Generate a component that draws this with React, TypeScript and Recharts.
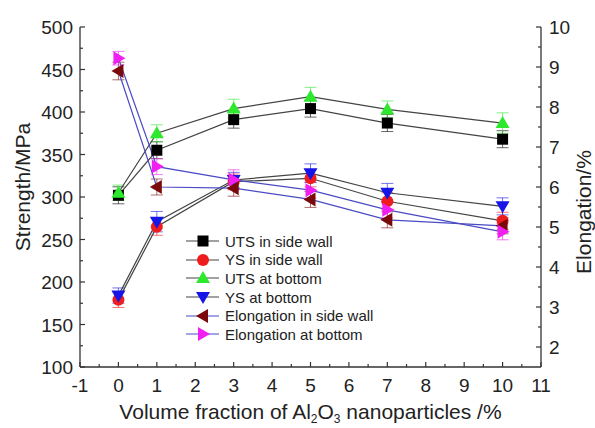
import React from 'react';
import {
  ComposedChart, Line, XAxis, YAxis, ErrorBar, Legend,
} from 'recharts';

const volumeFractions = [0, 1, 3, 5, 7, 10];

// strength (MPa), left axis
const utsSideWall = [302, 355, 391, 404, 387, 368];
const ysSideWall = [179, 265, 318, 322, 295, 272];
const utsBottom = [305, 375, 404, 418, 403, 387];
const ysBottom = [184, 271, 320, 328, 305, 289];
const utsSideWallErr = [10, 10, 10, 10, 10, 10];
const ysSideWallErr = [9, 10, 9, 10, 10, 10];
const utsBottomErr = [9, 10, 11, 11, 10, 12];
const ysBottomErr = [9, 12, 9, 11, 11, 10];

// elongation (%), right axis
const elongSideWall = [8.9, 6.0, 5.97, 5.69, 5.18, 5.03];
const elongBottom = [9.22, 6.51, 6.18, 5.92, 5.43, 4.88];
const elongSideWallErr = [0.22, 0.2, 0.2, 0.2, 0.2, 0.2];
const elongBottomErr = [0.17, 0.2, 0.25, 0.2, 0.2, 0.2];

const xTicks = [-1, 0, 1, 2, 3, 4, 5, 6, 7, 8, 9, 10, 11];
const leftTicks = [100, 150, 200, 250, 300, 350, 400, 450, 500];
const rightTicks = [2, 3, 4, 5, 6, 7, 8, 9, 10];

const withMinor = (major: number[], step: number) =>
  major.flatMap((v, i) => (i < major.length - 1 ? [v, v + step / 2] : [v]));

const data = volumeFractions.map((x, i) => ({
  x,
  utsSide: utsSideWall[i], utsSideErr: utsSideWallErr[i],
  ysSide: ysSideWall[i], ysSideErr: ysSideWallErr[i],
  utsBot: utsBottom[i], utsBotErr: utsBottomErr[i],
  ysBot: ysBottom[i], ysBotErr: ysBottomErr[i],
  elSide: elongSideWall[i], elSideErr: elongSideWallErr[i],
  elBot: elongBottom[i], elBotErr: elongBottomErr[i],
}));

const FONT = '"Liberation Sans", Arial, sans-serif';
const AXIS = '#333';
const STRENGTH_LINE = '#444';
const ELONG_LINE = '#4a4ac4';

type Shape = 'square' | 'circle' | 'up' | 'down' | 'left' | 'right';

const series = [
  { key: 'utsSide', err: 'utsSideErr', name: 'UTS in side wall', shape: 'square' as Shape, color: '#000000', line: STRENGTH_LINE, axis: 'left' },
  { key: 'ysSide', err: 'ysSideErr', name: 'YS in side wall', shape: 'circle' as Shape, color: '#ee1c1c', line: STRENGTH_LINE, axis: 'left' },
  { key: 'utsBot', err: 'utsBotErr', name: 'UTS at bottom', shape: 'up' as Shape, color: '#2ee82e', line: STRENGTH_LINE, axis: 'left' },
  { key: 'ysBot', err: 'ysBotErr', name: 'YS at bottom', shape: 'down' as Shape, color: '#1515e8', line: STRENGTH_LINE, axis: 'left' },
  { key: 'elSide', err: 'elSideErr', name: 'Elongation in side wall', shape: 'left' as Shape, color: '#7a0a0a', line: ELONG_LINE, axis: 'right' },
  { key: 'elBot', err: 'elBotErr', name: 'Elongation at bottom', shape: 'right' as Shape, color: '#f020f0', line: ELONG_LINE, axis: 'right' },
];

function Marker({ shape, cx, cy, color }: { shape: Shape; cx: number; cy: number; color: string }) {
  const s = 6;
  if (shape === 'square') return <rect x={cx - 5.5} y={cy - 5.5} width={11} height={11} fill={color} />;
  if (shape === 'circle') return <circle cx={cx} cy={cy} r={6} fill={color} />;
  let pts = '';
  if (shape === 'up') pts = `${cx},${cy - s - 1} ${cx - s - 1},${cy + s - 1} ${cx + s + 1},${cy + s - 1}`;
  if (shape === 'down') pts = `${cx},${cy + s + 1} ${cx - s - 1},${cy - s + 1} ${cx + s + 1},${cy - s + 1}`;
  if (shape === 'left') pts = `${cx - s - 1},${cy} ${cx + s - 1},${cy - s - 1} ${cx + s - 1},${cy + s + 1}`;
  if (shape === 'right') pts = `${cx + s + 1},${cy} ${cx - s + 1},${cy - s - 1} ${cx - s + 1},${cy + s + 1}`;
  return <polygon points={pts} fill={color} />;
}

const XTick = ({ x, y, payload }: any) => {
  const major = Number.isInteger(payload.value);
  return (
    <g>
      <line x1={x} x2={x} y1={y} y2={y - (major ? 5 : 3)} stroke={AXIS} strokeWidth={1.2} />
      {major && (
        <text x={x} y={y + 25} textAnchor="middle" fontSize={19} fill="#222" fontFamily={FONT}>
          {payload.value}
        </text>
      )}
    </g>
  );
};

const LeftTick = ({ x, y, payload }: any) => {
  const major = payload.value % 50 === 0;
  return (
    <g>
      <line x1={x} x2={x + (major ? 5 : 3)} y1={y} y2={y} stroke={AXIS} strokeWidth={1.2} />
      {major && (
        <text x={x - 7} y={y + 7} textAnchor="end" fontSize={19} fill="#222" fontFamily={FONT}>
          {payload.value}
        </text>
      )}
    </g>
  );
};

const RightTick = ({ x, y, payload }: any) => {
  const major = Number.isInteger(payload.value);
  return (
    <g>
      <line x1={x} x2={x - (major ? 5 : 3)} y1={y} y2={y} stroke={AXIS} strokeWidth={1.2} />
      {major && (
        <text x={x + 8} y={y + 7} textAnchor="start" fontSize={19} fill="#222" fontFamily={FONT}>
          {payload.value}
        </text>
      )}
    </g>
  );
};

const LeftTitle = ({ viewBox }: any) => {
  const cx = viewBox.x + 22;
  const cy = viewBox.y + viewBox.height / 2 - 10;
  return (
    <text x={cx} y={cy} transform={`rotate(-90 ${cx} ${cy})`} textAnchor="middle" dominantBaseline="central"
      fontSize={21} fill="#222" fontFamily={FONT}>Strength/MPa</text>
  );
};

const RightTitle = ({ viewBox }: any) => {
  const cx = viewBox.x + 42;
  const cy = viewBox.y + viewBox.height / 2 + 15;
  return (
    <text x={cx} y={cy} transform={`rotate(-90 ${cx} ${cy})`} textAnchor="middle" dominantBaseline="central"
      fontSize={21} fill="#222" fontFamily={FONT}>Elongation/%</text>
  );
};

const BottomTitle = ({ viewBox }: any) => (
  <text x={viewBox.x + viewBox.width / 2} y={viewBox.y + 52} textAnchor="middle" fontSize={21} fill="#222" fontFamily={FONT}>
    Volume fraction of Al<tspan dy={4} fontSize={12}>2</tspan><tspan dy={-4}>O</tspan>
    <tspan dy={4} fontSize={12}>3</tspan><tspan dy={-4}> nanoparticles /%</tspan>
  </text>
);

const LegendBox = () => (
  <div style={{ fontFamily: FONT, fontSize: 15, color: '#222' }}>
    {series.map((s) => (
      <div key={s.key} style={{ display: 'flex', alignItems: 'center', height: 18.6 }}>
        <svg width={39} height={18} style={{ flex: 'none' }}>
          <line x1={0} x2={33} y1={9} y2={9} stroke={s.line} strokeWidth={1.2} />
          <Marker shape={s.shape} cx={17} cy={9} color={s.color} />
        </svg>
        <span style={{ whiteSpace: 'nowrap' }}>{s.name}</span>
      </div>
    ))}
  </div>
);

export default function App() {
  return (
    <div style={{ position: 'absolute', left: 0, top: 0, background: '#fff' }}>
      <ComposedChart width={595} height={428} data={data} margin={{ top: 27, right: 0, bottom: 0, left: 0 }}>
        <XAxis
          type="number" dataKey="x" domain={[-1, 11]} ticks={withMinor(xTicks, 1)} interval={0}
          height={61} tickSize={0} tickMargin={0} tickLine={false} tick={<XTick />}
          axisLine={{ stroke: AXIS, strokeWidth: 1.3 }} label={<BottomTitle />}
        />
        <XAxis
          xAxisId="top" orientation="top" type="number" dataKey="x" domain={[-1, 11]}
          height={0} tick={false} tickLine={false} axisLine={{ stroke: AXIS, strokeWidth: 1.3 }}
        />
        <YAxis
          yAxisId="left" type="number" domain={[100, 500]} ticks={withMinor(leftTicks, 50)} interval={0}
          width={80} tickSize={0} tickMargin={0} tickLine={false} tick={<LeftTick />}
          axisLine={{ stroke: AXIS, strokeWidth: 1.3 }} label={<LeftTitle />}
        />
        <YAxis
          yAxisId="right" orientation="right" type="number" domain={[1.5, 10]} ticks={withMinor(rightTicks, 1)} interval={0}
          width={54} tickSize={0} tickMargin={0} tickLine={false} tick={<RightTick />}
          axisLine={{ stroke: AXIS, strokeWidth: 1.3 }} label={<RightTitle />}
        />
        {series.map((s) => (
          <Line
            key={s.key} yAxisId={s.axis} dataKey={s.key} name={s.name} type="linear"
            stroke={s.line} strokeWidth={1.2} isAnimationActive={false}
            dot={(p: any) => <Marker key={`${s.key}-${p.index}`} shape={s.shape} cx={p.cx} cy={p.cy} color={s.color} />}
            activeDot={false}
          >
            <ErrorBar dataKey={s.err} width={6} stroke={s.color} strokeOpacity={0.6} strokeWidth={1} direction="y" />
          </Line>
        ))}
        <Legend
          layout="vertical" align="center" verticalAlign="middle" content={<LegendBox />}
          wrapperStyle={{ left: 186, top: 232, width: 220, height: 115 }}
        />
      </ComposedChart>
    </div>
  );
}
